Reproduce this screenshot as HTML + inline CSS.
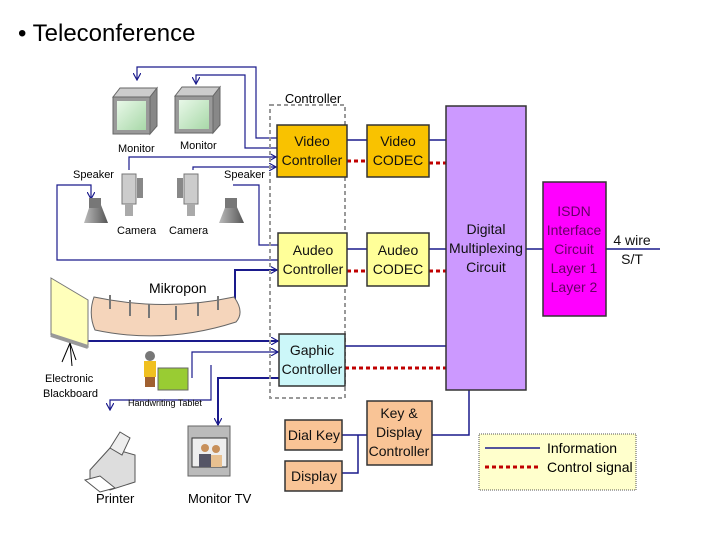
<!DOCTYPE html>
<html><head><meta charset="utf-8"><style>
html,body{margin:0;padding:0;background:#fff}
svg{display:block}
text{font-family:"Liberation Sans",sans-serif}
</style></head><body>
<svg width="720" height="540" viewBox="0 0 720 540" xmlns="http://www.w3.org/2000/svg">
<defs>
<marker id="a" viewBox="0 0 10 10" refX="9" refY="5" markerWidth="8" markerHeight="8" markerUnits="userSpaceOnUse" orient="auto"><path d="M0,0 L9,5 L0,10" fill="none" stroke="#1a1a8c" stroke-width="1.5"/></marker>
<linearGradient id="scr" x1="0" y1="0" x2="1" y2="1"><stop offset="0" stop-color="#e8f8e8"/><stop offset="1" stop-color="#a8d8a8"/></linearGradient>
<linearGradient id="gry" x1="0" y1="0" x2="1" y2="0"><stop offset="0" stop-color="#bbb"/><stop offset="1" stop-color="#555"/></linearGradient>
</defs>
<text x="18" y="41" font-size="24" fill="#000">• Teleconference</text>

<g fill="none" stroke="#1a1a8c" stroke-width="1.2">
<path d="M277,138 H256 V67 H137 V80" marker-end="url(#a)"/>
<path d="M277,148 H245 V75 H196 V84" marker-end="url(#a)"/>
<path d="M129,170 V157 H276" marker-end="url(#a)"/>
<path d="M193,170 V167 H276" marker-end="url(#a)"/>
<path d="M233,185 H259 V245 H278"/>
<path d="M278,260 H57 V185 H91 V199" marker-end="url(#a)"/>
<path d="M235,300 V270 H277" stroke-width="2" marker-end="url(#a)"/>
<path d="M87,341 H278" stroke-width="2" marker-end="url(#a)"/>
<path d="M192,378 V352 H278" marker-end="url(#a)"/>
<path d="M211,365 V400 H110 V410" marker-end="url(#a)"/>
<path d="M279,378 H218 V425" stroke-width="2" marker-end="url(#a)"/>
</g>

<g>
<polygon points="113,97 120,88 157,88 150,97" fill="#ccc" stroke="#666"/>
<polygon points="150,97 157,88 157,126 150,134" fill="#888" stroke="#666"/>
<rect x="113" y="97" width="37" height="37" fill="#999" stroke="#666"/>
<rect x="117" y="101" width="29" height="29" fill="url(#scr)"/>
<polygon points="175,96 182,87 220,87 213,96" fill="#ccc" stroke="#666"/>
<polygon points="213,96 220,87 220,125 213,133" fill="#888" stroke="#666"/>
<rect x="175" y="96" width="38" height="37" fill="#999" stroke="#666"/>
<rect x="179" y="100" width="30" height="29" fill="url(#scr)"/>
</g>
<text x="118" y="152" font-size="11">Monitor</text>
<text x="180" y="149" font-size="11">Monitor</text>
<text x="73" y="178" font-size="11">Speaker</text>
<text x="224" y="178" font-size="11">Speaker</text>
<polygon points="84,223 90,205 101,205 108,223" fill="url(#gry)"/>
<rect x="89" y="198" width="12" height="10" fill="#777"/>
<polygon points="219,223 226,205 236,205 244,223" fill="url(#gry)"/>
<rect x="225" y="198" width="12" height="10" fill="#777"/>
<rect x="122" y="174" width="14" height="30" fill="#ccc" stroke="#777"/>
<rect x="137" y="178" width="6" height="20" fill="#888"/>
<rect x="125" y="204" width="8" height="12" fill="#aaa"/>
<rect x="184" y="174" width="14" height="30" fill="#ccc" stroke="#777"/>
<rect x="177" y="178" width="6" height="20" fill="#888"/>
<rect x="187" y="204" width="8" height="12" fill="#aaa"/>
<text x="117" y="234" font-size="11">Camera</text>
<text x="169" y="234" font-size="11">Camera</text>
<path d="M94,297 Q165,312 234,297 Q245,312 236,322 Q165,345 95,330 Q88,314 94,297 Z" fill="#f5d5bb" stroke="#666"/>
<g stroke="#777" stroke-width="2">
<path d="M110,295 V309"/><path d="M130,300 V316"/><path d="M149,304 V318"/><path d="M176,306 V320"/><path d="M198,302 V316"/><path d="M218,296 V310"/>
</g>
<text x="149" y="293" font-size="14">Mikropon</text>
<polygon points="51,278 88,300 88,347 51,335" fill="#ffffbb" stroke="#777"/>
<path d="M51,335 L88,347" stroke="#999" stroke-width="4"/>
<path d="M70,343 L62,362 M70,343 L72,366 M70,343 L76,360" stroke="#000"/>
<text x="45" y="382" font-size="11">Electronic</text>
<text x="43" y="397" font-size="11">Blackboard</text>
<circle cx="150" cy="356" r="5" fill="#777"/>
<rect x="144" y="361" width="12" height="16" fill="#f0c020"/>
<rect x="158" y="368" width="30" height="22" fill="#99cc33" stroke="#666"/>
<rect x="145" y="377" width="10" height="10" fill="#a06030"/>
<text x="128" y="406" font-size="9">Handwriting Tablet</text>
<polygon points="90,470 110,448 135,455 135,482 110,490 90,480" fill="#ddd" stroke="#555"/>
<polygon points="110,448 120,432 130,438 122,455" fill="#eee" stroke="#555"/>
<polygon points="85,480 100,492 115,488 100,476" fill="#fff" stroke="#555"/>
<text x="96" y="503" font-size="13">Printer</text>
<rect x="188" y="426" width="42" height="50" fill="#bbb" stroke="#666"/>
<rect x="192" y="438" width="35" height="29" fill="#eee" stroke="#333"/>
<circle cx="205" cy="448" r="4" fill="#c8905a"/><circle cx="216" cy="449" r="4" fill="#c8905a"/>
<rect x="199" y="454" width="12" height="13" fill="#556"/><rect x="211" y="455" width="11" height="12" fill="#e8c090"/>
<text x="188" y="503" font-size="13">Monitor TV</text>

<rect x="270" y="105" width="75" height="293" fill="none" stroke="#999" stroke-width="2" stroke-dasharray="4,3"/>
<text x="313" y="103" font-size="13" text-anchor="middle">Controller</text>

<g fill="none" stroke="#1a1a8c" stroke-width="1.5">
<path d="M347,140 H367 M429,140 H446"/>
<path d="M347,249 H367 M429,249 H446"/>
<path d="M345,346 H446"/>
<path d="M526,249 H543 M606,249 H660"/>
<path d="M432,435 H469 V390"/>
<path d="M342,435 H367 M342,473 H358 V435"/>
</g>
<g fill="none" stroke="#c00000" stroke-width="3" stroke-dasharray="4,3">
<path d="M347,161 H367 M429,163 H446"/>
<path d="M347,271 H367 M429,271 H446"/>
<path d="M345,368 H446"/>
</g>

<g stroke="#333" stroke-width="1.5">
<rect x="277" y="125" width="70" height="52" fill="#f9c200"/>
<rect x="367" y="125" width="62" height="52" fill="#f9c200"/>
<rect x="278" y="233" width="69" height="53" fill="#ffff99"/>
<rect x="367" y="233" width="62" height="53" fill="#ffff99"/>
<rect x="279" y="334" width="66" height="52" fill="#ccf7f9"/>
<rect x="446" y="106" width="80" height="284" fill="#cc99ff"/>
<rect x="543" y="182" width="63" height="134" fill="#ff00ff"/>
<rect x="285" y="420" width="57" height="30" fill="#f9c496"/>
<rect x="285" y="461" width="57" height="30" fill="#f9c496"/>
<rect x="367" y="401" width="65" height="64" fill="#f9c496"/>
</g>
<rect x="479" y="434" width="157" height="56" fill="#ffffcc" stroke="#555" stroke-dasharray="1,1"/>
<path d="M485,448 H540" stroke="#1a1a8c" stroke-width="1.5"/>
<path d="M485,467 H540" stroke="#c00000" stroke-width="3" stroke-dasharray="4,3"/>

<g font-size="14" text-anchor="middle" fill="#111">
<text x="312" y="146">Video</text><text x="312" y="165">Controller</text>
<text x="398" y="146">Video</text><text x="398" y="165">CODEC</text>
<text x="313" y="255">Audeo</text><text x="313" y="274">Controller</text>
<text x="398" y="255">Audeo</text><text x="398" y="274">CODEC</text>
<text x="312" y="355">Gaphic</text><text x="312" y="374">Controller</text>
<text x="486" y="234">Digital</text><text x="486" y="253">Multiplexing</text><text x="486" y="272">Circuit</text>
<g fill="#660066"><text x="574" y="216">ISDN</text><text x="574" y="235">Interface</text><text x="574" y="254">Circuit</text><text x="574" y="273">Layer 1</text><text x="574" y="292">Layer 2</text></g>
<text x="632" y="245">4 wire</text><text x="632" y="264">S/T</text>
<text x="314" y="440">Dial Key</text>
<text x="314" y="481">Display</text>
<text x="399" y="418">Key &amp;</text><text x="399" y="437">Display</text><text x="399" y="456">Controller</text>
</g>
<text x="547" y="453" font-size="14">Information</text>
<text x="547" y="472" font-size="14">Control signal</text>
</svg>
</body></html>
